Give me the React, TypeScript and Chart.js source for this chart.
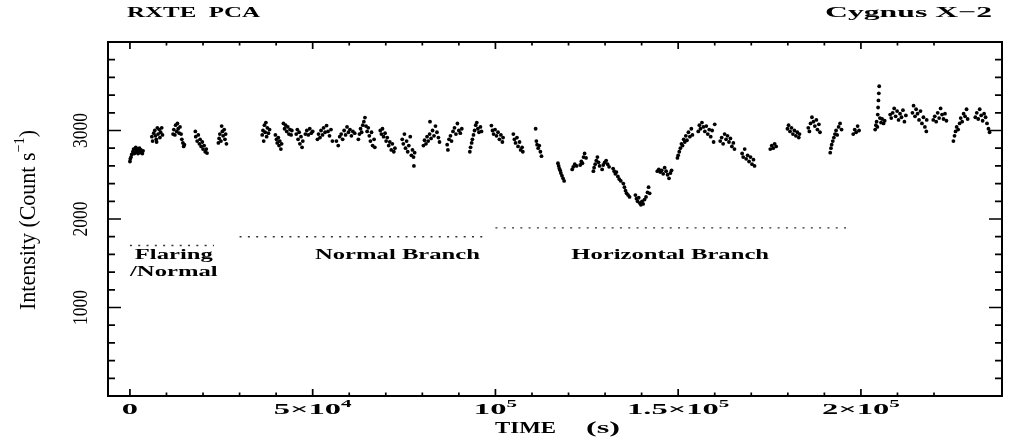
import React, { useEffect, useRef } from "react";
import { Chart, registerables } from "chart.js";

Chart.register(...registerables);

// Cygnus X-2 light curve (RXTE PCA), time in units of 1000 s, intensity in count/s
const flaringNormalPoints: [number, number][] = [
  [0.0, 2650], [0.1, 2680], [0.3, 2700], [0.5, 2730], [0.8, 2760], [1.0, 2790], [1.2, 2740], [1.4, 2780],
  [1.6, 2810], [1.8, 2760], [2.0, 2790], [2.2, 2740], [2.4, 2770], [2.6, 2800], [2.8, 2750], [3.0, 2780],
  [3.2, 2760], [3.4, 2740], [3.6, 2770],
  [6.0, 2930], [6.2, 2880], [6.5, 2970], [6.8, 3000], [7.0, 2940], [7.2, 2900], [7.5, 3030], [7.7, 2960],
  [8.0, 3010], [8.2, 2920], [8.4, 2980], [8.7, 3030], [8.9, 2950], [7.3, 2870],
  [11.8, 2960], [12.0, 3010], [12.3, 2950], [12.5, 3060], [12.8, 2990], [13.0, 3080], [13.2, 3020],
  [13.5, 2970], [13.7, 3040], [14.0, 2960], [14.2, 2900], [14.5, 2860], [14.7, 2820], [14.9, 2840],
  [17.9, 2990], [18.0, 2930], [18.4, 2880], [18.7, 2950], [19.0, 2850], [19.2, 2900], [19.5, 2820],
  [19.8, 2870], [20.0, 2790], [20.3, 2830], [20.6, 2760], [20.9, 2790], [21.1, 2745],
  [24.2, 2860], [24.4, 2910], [24.6, 2960], [24.9, 2880], [25.1, 3050], [25.3, 2990], [25.5, 2940],
  [25.8, 3010], [26.0, 2900], [26.2, 2960], [26.4, 2850],
];

const normalBranchPoints: [number, number][] = [
  [36.2, 2950], [36.4, 3000], [36.6, 2880], [36.8, 3060], [37.0, 2980], [37.2, 3090], [37.4, 2930],
  [37.6, 3030], [37.9, 2970], [38.2, 3010],
  [39.8, 2950], [40.1, 2900], [40.3, 2860], [40.6, 2920], [40.8, 2830], [41.0, 2880], [41.3, 2790], [41.5, 2850],
  [42.0, 3080], [42.3, 3020], [42.6, 3060], [42.9, 2990], [43.2, 3040], [43.5, 2960], [43.8, 3010],
  [44.1, 2950], [44.3, 3000],
  [45.5, 2960], [45.8, 3010], [46.0, 2900], [46.3, 2980], [46.5, 2850], [46.8, 2930], [47.1, 2810],
  [47.3, 2880], [48.0, 2960], [48.4, 3000], [48.8, 2950], [49.2, 3020], [49.6, 2970], [50.0, 2990],
  [51.3, 2900], [51.6, 2960], [52.0, 2920], [52.3, 3000], [52.7, 2950], [53.0, 3030], [53.4, 2980],
  [53.8, 3056], [54.2, 2990], [54.6, 2940], [55.0, 3010], [55.4, 2880],
  [56.5, 2880], [57.0, 2830], [57.4, 2930], [57.8, 2960], [58.2, 2900], [58.6, 3000], [59.0, 2950],
  [59.4, 3040], [59.8, 2980], [60.2, 3010], [60.6, 2940], [61.0, 2990], [61.5, 2970],
  [62.5, 2900], [62.8, 2960], [63.1, 3020], [63.4, 2980], [63.7, 3060], [64.0, 3100], [64.3, 3146],
  [64.6, 3050], [64.9, 2990], [65.2, 3030], [65.5, 2940], [65.8, 2880], [66.1, 2980], [66.4, 2830],
  [66.8, 2900], [67.0, 2810],
  [68.5, 3000], [68.8, 2960], [69.1, 3020], [69.4, 2930], [69.8, 2970], [70.1, 2880], [70.4, 2920],
  [70.8, 2830], [71.1, 2870], [71.5, 2780], [71.8, 2850], [72.2, 2760], [72.5, 2800],
  [74.5, 2900], [74.8, 2850], [75.1, 2960], [75.4, 2800], [75.7, 2880], [76.0, 2760], [76.3, 2830],
  [76.7, 2930], [77.0, 2720], [77.3, 2780], [77.6, 2700], [77.9, 2750], [77.7, 2600],
  [80.3, 2830], [80.6, 2890], [81.0, 2850], [81.3, 2930], [81.6, 2880], [82.0, 2960], [82.1, 3100],
  [82.4, 2910], [82.8, 3000], [83.2, 2940], [83.6, 3050], [84.0, 2980], [84.4, 2920], [84.7, 2870],
  [86.8, 2840], [87.0, 2780], [87.3, 2900], [87.7, 2940], [88.0, 2880], [88.4, 2990], [88.8, 3030],
  [89.2, 2960], [89.6, 3079], [90.0, 3000], [90.4, 2970], [90.8, 3020],
  [93.0, 2760], [93.2, 2810], [93.5, 2860], [93.7, 2900], [94.0, 2950], [94.3, 3000], [94.6, 3060],
  [94.9, 3090], [95.2, 3020], [95.5, 2980], [95.9, 3040], [96.2, 2990],
  [98.9, 3056], [99.2, 3000], [99.5, 2960], [99.9, 3010], [100.3, 2940], [100.7, 2980], [101.1, 2900],
  [101.5, 2950], [101.9, 2870], [102.1, 2920],
  [104.9, 2960], [105.2, 2900], [105.5, 2860], [105.9, 2920], [106.2, 2820], [106.6, 2870], [106.9, 2780],
  [107.3, 2810], [107.5, 2760],
  [111.0, 3020], [111.2, 2880], [111.4, 2840], [111.7, 2800], [112.0, 2830], [112.3, 2760], [112.6, 2710],
];

const horizontalBranchPoints: [number, number][] = [
  [117.1, 2630], [117.3, 2600], [117.5, 2570], [117.7, 2550], [117.9, 2520], [118.2, 2490], [118.5, 2460], [118.8, 2430],
  [121.0, 2560], [121.3, 2590], [121.7, 2620], [122.2, 2600],
  [123.2, 2610], [123.5, 2650], [123.8, 2630], [124.1, 2700], [124.4, 2740], [124.8, 2690],
  [126.8, 2540], [127.0, 2580], [127.3, 2620], [127.6, 2660], [127.9, 2700], [128.2, 2640], [128.5, 2600],
  [129.2, 2560], [129.5, 2610], [129.9, 2640], [130.3, 2660], [130.7, 2620], [131.1, 2590],
  [132.2, 2570], [132.5, 2540], [132.8, 2510], [133.1, 2530], [133.5, 2480], [133.9, 2450], [134.3, 2430],
  [135.0, 2400], [135.3, 2360], [135.6, 2320], [135.9, 2290], [136.3, 2270], [136.7, 2250],
  [138.3, 2270], [138.6, 2230], [138.9, 2200], [139.2, 2240], [139.5, 2180], [139.8, 2160], [140.1, 2200],
  [140.4, 2170], [140.8, 2220], [141.2, 2250], [141.6, 2300], [141.9, 2360], [142.2, 2290],
  [144.3, 2540], [144.7, 2560], [145.1, 2530], [145.5, 2550], [145.9, 2510], [146.3, 2580], [146.7, 2540],
  [147.1, 2500], [147.5, 2460], [147.9, 2520], [148.2, 2550],
  [149.8, 2690], [150.0, 2720], [150.3, 2760], [150.6, 2800], [150.9, 2850], [151.2, 2830], [151.5, 2900],
  [151.8, 2870], [152.1, 2940], [152.4, 2890], [152.8, 2980], [153.2, 2930], [153.6, 3020], [153.9, 2950],
  [155.5, 2990], [155.8, 3060], [156.1, 3020], [156.5, 3090], [156.9, 3040], [157.3, 2990], [157.7, 3050],
  [158.1, 2960], [158.5, 3010], [158.9, 2930], [159.3, 3000], [159.7, 2870], [160.0, 3070],
  [161.5, 2880], [161.9, 2920], [162.3, 2850], [162.7, 2960], [163.1, 2900], [163.5, 2940], [163.9, 2870],
  [164.3, 2910], [164.7, 2820], [165.1, 2860], [165.4, 2790],
  [167.5, 2740], [167.8, 2700], [168.2, 2790], [168.6, 2680], [169.0, 2720], [169.4, 2650], [169.8, 2700],
  [170.2, 2620], [170.6, 2670], [170.9, 2600],
  [175.2, 2790], [175.6, 2830], [176.0, 2800], [176.4, 2850], [176.8, 2820],
  [179.9, 3020], [180.2, 3060], [180.6, 2990], [181.0, 3030], [181.4, 2960], [181.8, 3000], [182.2, 2940],
  [182.6, 2980], [183.0, 2920], [183.2, 2960],
  [185.6, 3030], [185.9, 2990], [186.2, 3080], [186.6, 3150], [187.0, 3100], [187.4, 3050], [187.8, 3120],
  [188.1, 3010], [188.5, 3070], [188.8, 2980],
  [191.6, 2750], [191.8, 2800], [192.0, 2840], [192.3, 2880], [192.6, 2920], [192.9, 2960], [193.2, 3000],
  [193.5, 2950], [193.9, 3040], [194.3, 3080], [194.7, 3010],
  [197.9, 2960], [198.3, 3010], [198.7, 2980], [199.1, 3050], [199.5, 3000],
  [203.9, 3010], [204.1, 3060], [204.3, 3100], [204.5, 3040], [204.6, 3180], [204.7, 3260], [204.8, 3340],
  [204.9, 3420], [205.0, 3500], [205.2, 3140], [205.5, 3090], [205.8, 3130], [206.2, 3080], [206.5, 3110],
  [208.0, 3180], [208.3, 3140], [208.7, 3200], [209.1, 3250], [209.5, 3160], [209.9, 3220], [210.3, 3120],
  [210.7, 3190], [211.1, 3150], [211.5, 3230], [211.9, 3100], [212.3, 3170],
  [214.1, 3200], [214.4, 3280], [214.8, 3160], [215.1, 3240], [215.5, 3190], [215.9, 3120], [216.3, 3220],
  [216.7, 3080], [217.1, 3150], [217.5, 3040], [217.9, 2990], [218.0, 3120],
  [219.8, 3120], [220.2, 3160], [220.6, 3100], [221.0, 3200], [221.4, 3140], [221.8, 3250], [222.2, 3180],
  [222.6, 3130], [223.0, 3190], [223.4, 3110],
  [225.3, 2880], [225.6, 2940], [225.9, 2990], [226.2, 3040], [226.6, 3010], [227.0, 3080], [227.3, 3140],
  [227.7, 3100], [228.1, 3190], [228.5, 3160], [228.9, 3240], [229.2, 3130],
  [231.3, 3150], [231.7, 3200], [232.1, 3130], [232.5, 3240], [232.9, 3170], [233.3, 3110], [233.7, 3190],
  [234.1, 3150], [234.5, 3080], [234.9, 3020], [235.2, 2980],
];

// spectral branch intervals (time in 1000 s) and the level of their dotted bars
const branchStart = [0, 30, 100];
const branchEnd = [23, 98, 196];
const branchLevel = [1700, 1800, 1900];

const xTickLabels: Record<number, string> = {
  0: "0",
  50: "5×10^4",
  100: "10^5",
  150: "1.5×10^5",
  200: "2×10^5",
};
const yTickLabels: Record<number, string> = { 1000: "1000", 2000: "2000", 3000: "3000" };

const SERIF = '"Liberation Serif", "Times New Roman", serif';

type TextOpts = {
  size: number;
  bold?: boolean;
  align?: "left" | "center" | "right";
  sx?: number;
  width?: number;
  rotate?: boolean;
};

// "^" toggles superscript, e.g. "5×10^4" or "s^−1^)"
function drawText(ctx: CanvasRenderingContext2D, label: string, x: number, y: number, o: TextOpts) {
  const parts = label.split("^");
  const weight = o.bold ? "bold " : "";
  const fontFor = (i: number) => `${weight}${i % 2 ? o.size * 0.65 : o.size}px ${SERIF}`;
  const widths = parts.map((p, i) => {
    ctx.font = fontFor(i);
    return ctx.measureText(p).width;
  });
  const natural = widths.reduce((a, b) => a + b, 0);
  const sx = o.width ? o.width / natural : o.sx ?? 1;
  let pos = o.align === "center" ? -natural / 2 : o.align === "right" ? -natural : 0;
  ctx.save();
  ctx.translate(x, y);
  if (o.rotate) ctx.rotate(-Math.PI / 2);
  ctx.scale(sx, 1);
  ctx.fillStyle = "#000";
  ctx.textAlign = "left";
  ctx.textBaseline = "alphabetic";
  parts.forEach((p, i) => {
    ctx.font = fontFor(i);
    ctx.fillText(p, pos, i % 2 ? -o.size * 0.45 : 0);
    pos += widths[i];
  });
  ctx.restore();
}

const isMultiple = (v: number, step: number) => Math.abs(v / step - Math.round(v / step)) < 1e-6;

const framePlugin = {
  id: "pgplotFrame",
  afterDraw(chart: Chart) {
    const { ctx, chartArea: a } = chart;
    const xs = chart.scales.x;
    const ys = chart.scales.y;
    ctx.save();
    ctx.strokeStyle = "#000";
    ctx.lineWidth = 2;
    ctx.strokeRect(a.left, a.top, a.right - a.left, a.bottom - a.top);

    ctx.lineWidth = 1.7;
    ctx.beginPath();
    xs.ticks.forEach((t) => {
      if (!isMultiple(t.value, 10)) return;
      const px = xs.getPixelForValue(t.value);
      const len = isMultiple(t.value, 50) ? 7 : 3.5;
      ctx.moveTo(px, a.bottom);
      ctx.lineTo(px, a.bottom - len);
      ctx.moveTo(px, a.top);
      ctx.lineTo(px, a.top + len);
    });
    ys.ticks.forEach((t) => {
      if (!isMultiple(t.value, 200)) return;
      const py = ys.getPixelForValue(t.value);
      const len = isMultiple(t.value, 1000) ? 13 : 7;
      ctx.moveTo(a.left, py);
      ctx.lineTo(a.left + len, py);
      ctx.moveTo(a.right, py);
      ctx.lineTo(a.right - len, py);
    });
    ctx.stroke();
    ctx.restore();

    // tick labels
    xs.ticks.forEach((t) => {
      const label = xTickLabels[t.value];
      if (label === undefined) return;
      drawText(ctx, label, xs.getPixelForValue(t.value), a.bottom + 17.5, {
        size: 14.8,
        bold: true,
        align: "center",
        sx: 2.2,
      });
    });
    ys.ticks.forEach((t) => {
      const label = yTickLabels[t.value];
      if (label === undefined) return;
      drawText(ctx, label, a.left - 21, ys.getPixelForValue(t.value), {
        size: 21,
        align: "center",
        rotate: true,
        width: 35,
      });
    });

    // axis titles
    drawText(ctx, "TIME", 495, 433, { size: 17.5, bold: true, width: 61 });
    drawText(ctx, "(s)", 586, 433, { size: 17.5, bold: true, width: 34 });
    drawText(ctx, "Intensity (Count s^−1^)", 35, 220, { size: 24, align: "center", rotate: true, width: 180 });

    // header
    drawText(ctx, "RXTE  PCA", 127, 17, { size: 15.3, bold: true, width: 133 });
    drawText(ctx, "Cygnus X−2", 992, 17, { size: 15.3, bold: true, align: "right", width: 167 });

    // branch names
    const label = (text: string, t: number, level: number) =>
      drawText(ctx, text, xs.getPixelForValue(t), ys.getPixelForValue(level), {
        size: 13.7,
        bold: true,
        align: "center",
        sx: 1.8,
      });
    label("Flaring", 12.0, 1550);
    label("/Normal", 12.0, 1355);
    label("Normal Branch", 73.2, 1550);
    label("Horizontal Branch", 147.8, 1550);
  },
};

const toXY = (pts: [number, number][]) => pts.map(([x, y]) => ({ x, y }));

export default function App() {
  const canvasRef = useRef<HTMLCanvasElement>(null);

  useEffect(() => {
    if (!canvasRef.current) return;

    const pointStyle = {
      showLine: false,
      pointRadius: 1.9,
      pointHoverRadius: 1.9,
      pointBorderWidth: 0,
      pointBackgroundColor: "#000",
      backgroundColor: "#000",
      borderColor: "#000",
    };

    const branchBars = branchStart.map((start, i) => ({
      label: `branch ${i}`,
      data: [
        { x: start, y: branchLevel[i] },
        { x: branchEnd[i], y: branchLevel[i] },
      ],
      showLine: true,
      borderColor: "#333",
      borderWidth: 1.4,
      borderDash: [2, 6.3],
      pointRadius: 0,
      pointHoverRadius: 0,
    }));

    const chart = new Chart(canvasRef.current, {
      type: "scatter",
      data: {
        datasets: [
          { label: "Flaring/Normal", data: toXY(flaringNormalPoints), ...pointStyle },
          { label: "Normal Branch", data: toXY(normalBranchPoints), ...pointStyle },
          { label: "Horizontal Branch", data: toXY(horizontalBranchPoints), ...pointStyle },
          ...branchBars,
        ],
      },
      options: {
        animation: false,
        responsive: true,
        maintainAspectRatio: false,
        layout: { padding: { left: 108, right: 7, top: 42, bottom: 45 } },
        plugins: {
          legend: { display: false },
          tooltip: { enabled: false },
        },
        scales: {
          x: {
            type: "linear",
            display: false,
            min: -6,
            max: 238.6,
            ticks: { stepSize: 10 },
          },
          y: {
            type: "linear",
            display: false,
            min: 0,
            max: 4000,
            ticks: { stepSize: 200 },
          },
        },
      },
      plugins: [framePlugin],
    });

    return () => {
      chart.destroy();
    };
  }, []);

  return (
    <div style={{ position: "fixed", left: 0, top: 0, width: 1009, height: 441, background: "#fff" }}>
      <canvas ref={canvasRef} />
    </div>
  );
}
